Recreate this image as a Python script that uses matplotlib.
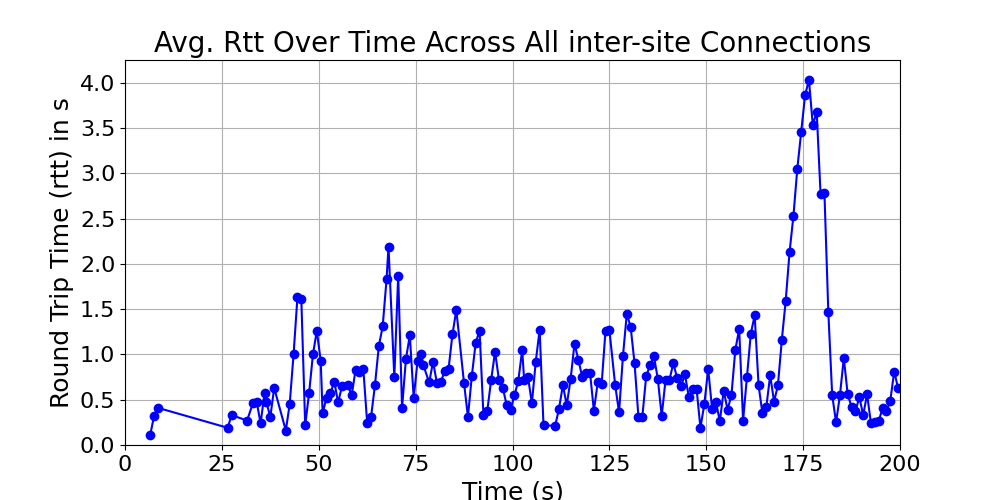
import matplotlib
matplotlib.use("Agg")
import matplotlib.pyplot as plt
import numpy as np

# time (s) and average rtt (s)
time_s = [6.5, 7.5, 8.5, 26.5, 27.5, 31.5, 33, 34, 35, 36, 36.5, 37.5, 38.5, 41.5, 42.5, 43.5,
          44.5, 45.5, 46.5, 47.5, 48.5, 49.5, 50.5, 51, 52, 53, 54, 55, 56, 57.5, 58.5, 59.5,
          60.5, 61.5, 62.5, 63.5, 64.5, 65.5, 66.5, 67.5, 68, 69.5, 70.5, 71.5, 72.5, 73.5,
          74.5, 75.5, 76.5, 77, 78.5, 79.5, 80.5, 81.5, 82.5, 83.5, 84.5, 85.5, 87.5, 88.5,
          89.5, 90.5, 91.5, 92.5, 93.5, 94.5, 95.5, 96.5, 97.5, 98.5, 99.5, 100.5, 101.5,
          102.5, 103, 104, 105, 106, 107, 108, 111, 112, 113, 114, 115, 116, 117, 118, 119,
          120, 121, 122, 123, 124, 125, 126.5, 127.5, 128.5, 129.5, 130.5, 131.5, 132.5,
          133.5, 134.5, 135.5, 136.5, 137.5, 138.5, 139.5, 140.5, 141.5, 142.5, 143.5, 144.5,
          145.5, 146.5, 147.5, 148.5, 149.5, 150.5, 151.5, 152.5, 153.5, 154.5, 155.5, 156.5,
          157.5, 158.5, 159.5, 160.5, 161.5, 162.5, 163.5, 164.5, 165.5, 166.5, 167.5, 168.5,
          169.5, 170.5, 171.5, 172.5, 173.5, 174.5, 175.5, 176.5, 177.5, 178.5, 179.5, 180.5,
          181.5, 182.5, 183.5, 184.5, 185.5, 186.5, 187.5, 188.5, 189.5, 190.5, 191.5, 192.5,
          193.5, 194.5, 195.5, 196.5, 197.5, 198.5, 199.5]
avg_rtt = [0.11, 0.32, 0.41, 0.19, 0.33, 0.27, 0.46, 0.47, 0.24, 0.57, 0.47, 0.31, 0.63, 0.16,
           0.45, 1.0, 1.63, 1.61, 0.22, 0.57, 1.0, 1.26, 0.93, 0.35, 0.52, 0.57, 0.7, 0.47,
           0.65, 0.66, 0.55, 0.83, 0.81, 0.84, 0.24, 0.31, 0.66, 1.09, 1.31, 1.83, 2.19, 0.75,
           1.87, 0.41, 0.95, 1.21, 0.52, 0.93, 1.0, 0.88, 0.69, 0.92, 0.68, 0.69, 0.82, 0.84,
           1.22, 1.49, 0.68, 0.31, 0.76, 1.13, 1.26, 0.33, 0.38, 0.72, 1.03, 0.72, 0.63, 0.44,
           0.39, 0.55, 0.71, 1.05, 0.72, 0.75, 0.46, 0.92, 1.27, 0.22, 0.21, 0.40, 0.66, 0.44,
           0.73, 1.12, 0.94, 0.75, 0.8, 0.8, 0.38, 0.69, 0.67, 1.26, 1.27, 0.66, 0.36, 0.98,
           1.45, 1.3, 0.9, 0.31, 0.31, 0.76, 0.88, 0.98, 0.73, 0.32, 0.72, 0.72, 0.9, 0.74,
           0.65, 0.78, 0.53, 0.62, 0.62, 0.19, 0.45, 0.84, 0.4, 0.48, 0.26, 0.6, 0.39, 0.55,
           1.05, 1.28, 0.27, 0.75, 1.23, 1.43, 0.66, 0.35, 0.42, 0.77, 0.48, 0.66, 1.16, 1.59,
           2.13, 2.53, 3.05, 3.45, 3.86, 4.03, 3.53, 3.68, 2.77, 2.78, 1.47, 0.55, 0.25, 0.55,
           0.96, 0.56, 0.42, 0.37, 0.53, 0.33, 0.56, 0.24, 0.25, 0.26, 0.41, 0.37, 0.49, 0.81,
           0.63]

fig, ax = plt.subplots(figsize=(10, 5), dpi=100)
ax.plot(time_s, avg_rtt, marker="o", color="blue", markersize=6)
ax.set_xlim(0, 200)
ax.set_ylim(0, 4.25)
ax.set_yticks(np.arange(0, 4.01, 0.5))
ax.set_title("Avg. Rtt Over Time Across All inter-site Connections", fontsize=20)
ax.set_xlabel("Time (s)", fontsize=18)
ax.set_ylabel("Round Trip Time (rtt) in s", fontsize=18)
ax.tick_params(labelsize=16)
ax.grid(True)
fig.savefig("out.png")
